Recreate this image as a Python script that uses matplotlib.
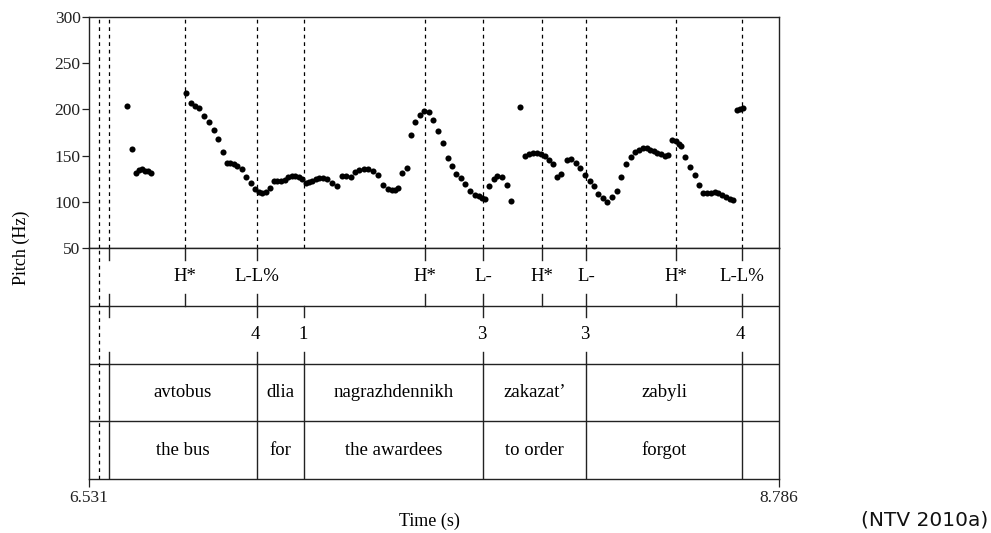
import matplotlib
matplotlib.use("Agg")
import matplotlib.pyplot as plt

# time window (s) and pitch range (Hz)
t_start, t_end = 6.531, 8.786

# pitch track (time in s, f0 in Hz)
pitch_t = [6.655, 6.672, 6.685, 6.694, 6.704, 6.714, 6.724, 6.734,
           6.848, 6.863, 6.877, 6.892, 6.907, 6.923, 6.940, 6.954, 6.969,
           6.982, 6.993, 7.005, 7.015, 7.031, 7.044, 7.060, 7.075, 7.087,
           7.098, 7.109, 7.121, 7.136, 7.147, 7.158, 7.170, 7.181, 7.193,
           7.204, 7.216, 7.227, 7.239, 7.250, 7.261, 7.273, 7.284, 7.296,
           7.309, 7.325, 7.341, 7.358, 7.371, 7.386, 7.400, 7.415, 7.430,
           7.444, 7.459, 7.477, 7.492, 7.507, 7.520, 7.531, 7.541, 7.554,
           7.569, 7.583, 7.598, 7.613, 7.627, 7.641, 7.655, 7.673, 7.688,
           7.703, 7.717, 7.732, 7.747, 7.761, 7.776, 7.791, 7.804, 7.815,
           7.825, 7.838, 7.853, 7.866, 7.881, 7.897, 7.910, 7.941, 7.956,
           7.969, 7.982, 7.995, 8.008, 8.020, 8.033, 8.047, 8.062, 8.075,
           8.092, 8.106, 8.121, 8.137, 8.152, 8.167, 8.181, 8.196, 8.211,
           8.225, 8.240, 8.255, 8.271, 8.286, 8.301, 8.317, 8.330, 8.342,
           8.353, 8.364, 8.376, 8.388, 8.399, 8.412, 8.423, 8.436, 8.448,
           8.458, 8.466, 8.480, 8.495, 8.511, 8.526, 8.539, 8.551, 8.564,
           8.577, 8.588, 8.600, 8.613, 8.626, 8.636, 8.649, 8.659, 8.667]
pitch_hz = [204, 157, 131, 134, 135, 133, 133, 131,
            218, 207, 204, 201, 193, 186, 178, 168, 154,
            142, 142, 141, 139, 136, 127, 120, 114, 111,
            110, 111, 115, 122, 122, 123, 124, 127, 128,
            128, 127, 125, 120, 121, 123, 125, 126, 126,
            125, 120, 117, 128, 128, 127, 132, 134, 136,
            136, 133, 129, 118, 114, 113, 113, 115, 131,
            137, 172, 186, 194, 198, 197, 189, 177, 164,
            147, 139, 130, 126, 119, 112, 107, 106, 104,
            103, 117, 125, 128, 127, 118, 101, 203, 150,
            152, 153, 153, 152, 150, 145, 141, 127, 130,
            145, 146, 142, 137, 129, 122, 117, 108, 104,
            100, 105, 112, 127, 141, 148, 154, 156, 158,
            158, 156, 155, 153, 152, 150, 151, 167, 166,
            163, 160, 149, 138, 129, 118, 109, 109, 110,
            111, 110, 107, 105, 103, 102, 199, 200, 201]

# tone tier (ToBI)
tone_t = [6.845, 7.080, 7.629, 7.819, 8.011, 8.155, 8.449, 8.665]
tone_lab = ["H*", "L-L%", "H*", "L-", "H*", "L-", "H*", "L-L%"]

# break index tier
brk_t = [7.080, 7.234, 7.819, 8.155, 8.665]
brk_lab = ["4", "1", "3", "3", "4"]

# word boundaries, words and glosses
word_bounds = [6.596, 7.080, 7.234, 7.819, 8.155, 8.665]
words = ["avtobus", "dlia", "nagrazhdennikh", "zakazat\u2019", "zabyli"]
glosses = ["the bus", "for", "the awardees", "to order", "forgot"]

# extra boundaries
first_mark = 6.564   # dashed through every tier
start_mark = 6.596

plt.rcParams['font.family'] = ['Liberation Serif', 'DejaVu Serif']

W, H = 991, 533
fig = plt.figure(figsize=(W / 100, H / 100), dpi=100)
left, right = 89, 779
top, pitch_bot, bottom = 17, 248, 479

ax = fig.add_axes([left / W, 1 - pitch_bot / H, (right - left) / W, (pitch_bot - top) / H])
tx = fig.add_axes([left / W, 1 - bottom / H, (right - left) / W, (bottom - pitch_bot) / H])

dash = (0, (3, 3))
edge = '#222222'
tier_fs = 13.5

# pitch panel
ax.plot(pitch_t, pitch_hz, 'o', color='k', markersize=4.4, markeredgewidth=0)
for t in [first_mark, start_mark] + tone_t + [7.234]:
    ax.axvline(t, color='k', lw=0.9, ls=dash)
ax.set_xlim(t_start, t_end)
ax.set_ylim(50, 300)
ax.set_yticks([50, 100, 150, 200, 250, 300])
ax.set_xticks([])
ax.tick_params(axis='y', direction='out', length=5, width=0.9, labelsize=12.5, pad=1,
               colors=edge)
for s in ax.spines.values():
    s.set_linewidth(1.0)
    s.set_color(edge)

# tier panel
tx.set_xlim(t_start, t_end)
tx.set_ylim(0, 4)
for y in [1, 2, 3]:
    tx.axhline(y, color=edge, lw=1.0)
tx.axvline(first_mark, color='k', lw=0.9, ls=dash)

tick = 0.2
# tone tier
for t in [start_mark] + tone_t:
    tx.plot([t, t], [4 - tick, 4], color=edge, lw=1.0)
    tx.plot([t, t], [3, 3 + tick], color=edge, lw=1.0)
for t, lab in zip(tone_t, tone_lab):
    tx.text(t, 3.5, lab, ha='center', va='center', fontsize=tier_fs)

# break tier
for t in [start_mark] + brk_t:
    tx.plot([t, t], [3 - tick, 3], color=edge, lw=1.0)
    tx.plot([t, t], [2, 2 + tick], color=edge, lw=1.0)
for t, lab in zip(brk_t, brk_lab):
    tx.text(t - 0.004, 2.5, lab, ha='center', va='center', fontsize=tier_fs)

# word and gloss tiers
for t in word_bounds:
    tx.plot([t, t], [0, 2], color=edge, lw=1.0)
for i in range(len(words)):
    mid = (word_bounds[i] + word_bounds[i + 1]) / 2
    tx.text(mid, 1.5, words[i], ha='center', va='center', fontsize=tier_fs)
    tx.text(mid, 0.5, glosses[i], ha='center', va='center', fontsize=tier_fs)

tx.set_yticks([])
tx.set_xticks([t_start, t_end])
tx.set_xticklabels(["%.3f" % t_start, "%.3f" % t_end])
tx.tick_params(axis='x', direction='out', length=6, width=0.9, labelsize=12.5, pad=2,
               colors=edge)
for s in tx.spines.values():
    s.set_linewidth(1.0)
    s.set_color(edge)

fig.text(left / W - 0.068, 1 - 248 / H, "Pitch (Hz)", rotation=90, ha='center', va='center',
         fontsize=13)
fig.text((left + right) / 2 / W - 0.005, 1 - 521 / H, "Time (s)", ha='center', va='center',
         fontsize=13)
fig.text(988 / W, 1 - 520 / H, "(NTV 2010a)", ha='right', va='center', fontsize=14.5,
         family=['DejaVu Sans'], color='#111111')

fig.savefig("out.png", dpi=100)
